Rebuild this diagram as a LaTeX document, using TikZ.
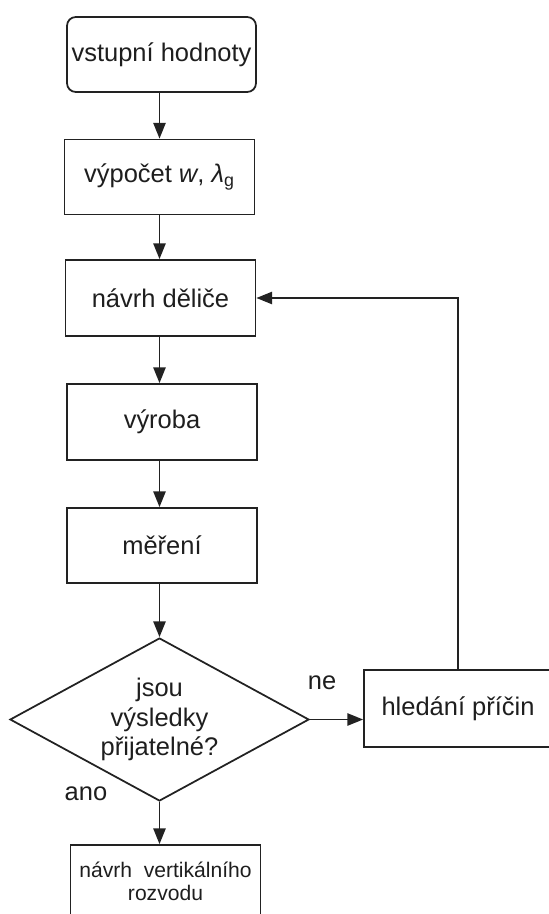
\documentclass[tikz,border=0pt]{standalone}
\usepackage{fontspec}
\setmainfont{Liberation Sans}
\usetikzlibrary{arrows.meta,shapes.geometric}
\definecolor{fcline}{HTML}{222222}
\definecolor{fctext}{HTML}{1E1E1E}

\begin{document}
\begin{tikzpicture}[
    font=\fontsize{14.5}{17}\selectfont,
    >=Triangle,
    startbox/.style={
        draw=fcline,
        rounded corners=5pt,
        minimum width=3.78cm,
        minimum height=1.5cm,
        inner sep=0pt,
        text=fctext,
        line width=1pt
    },
    procbox/.style={
        draw=fcline,
        minimum width=3.8cm,
        minimum height=1.5cm,
        align=center,
        text=fctext,
        line width=1pt
    },
    decision/.style={
        draw=fcline,
        diamond,
        aspect=1.83,
        inner sep=0pt,
        minimum width=5.98cm,
        minimum height=3.26cm,
        align=center,
        text=fctext,
        line width=1pt
    },
    answer/.style={text=fctext},
    flow/.style={-{Triangle[length=9pt,width=7pt]},line width=1pt,fcline}
]
\useasboundingbox (0,0) rectangle (10.96,-18.28);

% Input data
\node[startbox] (input) at (3.23,-1.09) {vstupní hodnoty};

% Computation of w and lambda
\node[procbox] (calc) at (3.19,-3.54) {výpočet \textit{w}, \textit{λ}\textsubscript{g}};

% Divider design
\node[procbox,minimum height=1.52cm] (design) at (3.21,-5.96) {návrh děliče};

% Manufacturing and measurement
\node[procbox,minimum height=1.52cm] (make) at (3.24,-8.44) {výroba};
\node[procbox] (measure) at (3.24,-10.91) {měření};

% Check of the results
\node[decision] (check) at (3.19,-14.39) {jsou\\výsledky\\přijatelné?};

% Looking for the causes
\node[procbox,minimum width=3.76cm,minimum height=1.54cm] (causes) at (9.16,-14.17) {hledání příčin};

% Vertical distribution
\node[procbox,minimum height=1.44cm,
      font=\fontsize{12}{13}\selectfont] (vert) at (3.31,-17.62)
    {návrh\ \ vertikálního\\rozvodu};

% Main flow
\draw[flow] (input.south -| calc.north) -- (calc.north);
\draw[flow] (calc.south) -- (calc.south |- design.north);
\draw[flow] (calc.south |- design.south) -- (calc.south |- make.north);
\draw[flow] (calc.south |- make.south) -- (calc.south |- measure.north);
\draw[flow] (calc.south |- measure.south) -- (check.north);
\draw[flow] (check.south) -- (check.south |- vert.north);

% Branches
\draw[flow] (check.east) -- (causes.west |- check.east);
\draw[flow] (causes.north) |- (design.east);

\node[answer] (no) at (6.44,-13.66) {ne};
\node[answer] (yes) at (1.72,-15.88) {ano};

\end{tikzpicture}
\end{document}
